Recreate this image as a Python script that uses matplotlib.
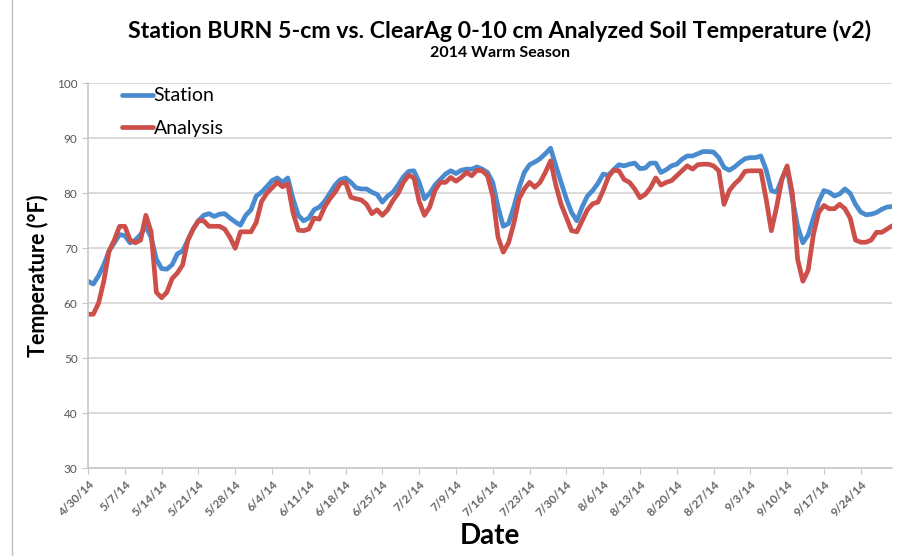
import matplotlib
matplotlib.use("Agg")
import matplotlib.pyplot as plt
import pandas as pd

# daily soil temperature (F), 4/30/14 - 9/30/14
station = [64, 63.5, 65, 67, 69.5, 71, 72.5, 72.3, 71, 71.5,
           72.5, 74, 72, 68, 66.3, 66.2, 67, 69, 69.5, 71.5,
           73.5, 75, 76, 76.3, 75.8, 76.2, 76.3, 75.5, 74.8, 74.2,
           76, 77, 79.5, 80.2, 81.2, 82.3, 82.8, 82, 82.8, 79,
           76, 75, 75.5, 77, 77.5, 78.5, 80, 81.5, 82.5, 82.8,
           82, 81, 80.8, 80.8, 80.2, 79.8, 78.4, 79.5, 80.2, 81.5,
           83, 84, 84.1, 82, 79, 80, 81.5, 82.5, 83.5, 84.1,
           83.6, 84.2, 84.4, 84.4, 84.8, 84.4, 83.8, 82, 77.5, 74,
           74.5, 77.5, 81, 83.8, 85.2, 85.7, 86.3, 87.2, 88.2, 85,
           82, 79, 76.5, 75, 77.5, 79.5, 80.5, 81.8, 83.5, 83.3,
           84.3, 85.2, 85, 85.3, 85.5, 84.5, 84.6, 85.5, 85.5, 83.8,
           84.3, 85, 85.3, 86.2, 86.8, 86.8, 87.2, 87.6, 87.6, 87.5,
           86.5, 84.7, 84.2, 84.8, 85.6, 86.3, 86.5, 86.5, 86.8, 84.3,
           80.5, 80.2, 82.6, 84.7, 79, 74, 71, 72.4, 75.5, 78.5,
           80.5, 80.2, 79.5, 79.9, 80.8, 80, 78, 76.6, 76.1, 76.2,
           76.5, 77.1, 77.5, 77.6]

analysis = [58, 58, 60, 64, 69.5, 71.5, 74, 74, 71.5, 71,
            71.5, 76, 73, 62, 61, 62, 64.5, 65.5, 67, 71.5,
            73.5, 75, 75, 74, 74, 74, 73.5, 72, 70, 73,
            73, 73, 74.7, 78.5, 80, 81, 82, 81.2, 81.7, 76.5,
            73.3, 73.2, 73.5, 75.5, 75.3, 77.5, 79, 80.2, 81.8, 82,
            79.3, 79, 78.8, 78, 76.3, 77, 76, 77, 78.7, 80,
            82, 83.3, 82.8, 78.5, 76, 77.5, 80.5, 82, 82, 82.9,
            82.2, 82.9, 83.8, 83.2, 84.2, 84.1, 83.2, 79.5, 72, 69.3,
            71, 74.5, 79, 80.8, 82, 81.1, 82, 83.8, 85.9, 81.5,
            78, 75.6, 73.2, 73, 75, 77, 78.1, 78.4, 80.5, 83,
            84.2, 84.1, 82.5, 82, 80.8, 79.2, 79.8, 81, 82.8, 81.5,
            82, 82.3, 83.2, 84.1, 85, 84.4, 85.2, 85.3, 85.3, 85,
            84.1, 78, 80.5, 81.7, 82.6, 84, 84.1, 84.1, 84.1, 79,
            73.2, 77.5, 82.5, 85, 80, 68, 64, 66, 72.5, 76.5,
            77.8, 77.2, 77.2, 78, 77.2, 75.5, 71.5, 71.1, 71.1, 71.5,
            72.9, 72.9, 73.5, 74.1]

dates = pd.date_range("2014-04-30", periods=len(station), freq="D")
tick_dates = pd.date_range("2014-04-30", "2014-09-24", freq="7D")

plt.rcParams['font.family'] = ['Lato', 'DejaVu Sans']

fig = plt.figure(figsize=(9.17, 5.56), dpi=100)
ax = fig.add_axes([0.096, 0.158, 0.877, 0.692])

ax.plot(dates, station, color="#4a8bcf", lw=3.4, label="Station", solid_capstyle="round")
ax.plot(dates, analysis, color="#cc4f4a", lw=3.4, label="Analysis", solid_capstyle="round")

ax.set_ylim(30, 100)
ax.set_yticks(range(30, 101, 10))
ax.set_xlim(dates[0], dates[-1])
ax.set_xticks(tick_dates)
ax.set_xticklabels([f"{d.month}/{d.day}/14" for d in tick_dates], rotation=45,
                   ha="right", rotation_mode="anchor", fontsize=8.5,
                   fontweight="bold", color="#666666")
ax.tick_params(axis="y", labelsize=8.5, colors="#555555", length=4, color="#c8c8c8")
ax.tick_params(axis="x", length=4, color="#c8c8c8")

ax.grid(axis="y", color="#d4d4d4", lw=1.2)
ax.set_axisbelow(True)
for s in ["top", "right"]:
    ax.spines[s].set_visible(False)
for s in ["left", "bottom"]:
    ax.spines[s].set_color("#c8c8c8")
    ax.spines[s].set_linewidth(1.2)

ax.set_ylabel("Temperature (°F)", fontsize=15.5, fontweight="bold", labelpad=6)
ax.set_xlabel("Date", fontsize=20, fontweight="bold", labelpad=3)

leg = ax.legend(loc="upper left", bbox_to_anchor=(0.02, 1.035), frameon=False,
                fontsize=14, handlelength=1.6, handletextpad=0.05, labelspacing=0.8)

fig.text(0.545, 0.945, "Station BURN 5-cm vs. ClearAg 0-10 cm Analyzed Soil Temperature (v2)",
         ha="center", va="center", fontsize=16.7, fontweight="bold")
fig.text(0.545, 0.905, "2014 Warm Season", ha="center", va="center",
         fontsize=11.5, fontweight="bold")

fig.add_artist(plt.Line2D([0.013, 0.013], [0.0, 1.0], color="#c0c0c0", lw=1))

fig.savefig("out.png", dpi=100)
